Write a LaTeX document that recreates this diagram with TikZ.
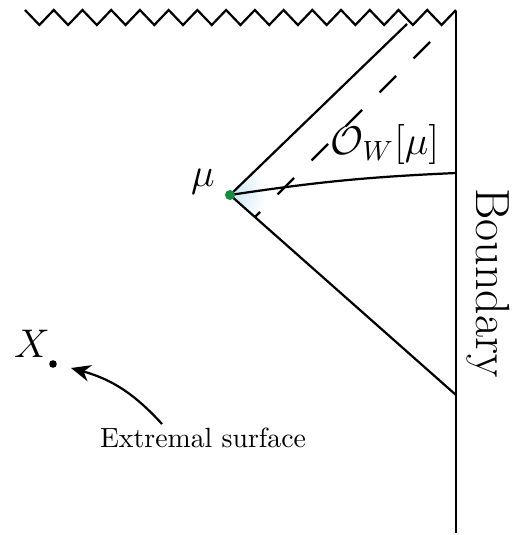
\documentclass[tikz,border=0pt]{standalone}
\usepackage{amsmath,amssymb}
\usepackage{tikz}
\usetikzlibrary{arrows.meta}

\definecolor{mugreen}{RGB}{20,140,60}
\definecolor{haze}{RGB}{200,228,246}

\begin{document}
\begin{tikzpicture}[x=0.36pt, y=-0.36pt,
  wall/.style={thick},
  cone/.style={thick},
  nullray/.style={thick,dash pattern=on 8.4pt off 8.9pt},
  pointer/.style={thick,-{Stealth[length=7pt,width=6pt]}},
  bigmath/.style={font=\Large}]

  \useasboundingbox (0,0) rectangle (513,535);

  \def\P{28.73}

  % Singularity
  \draw[wall] (25,10)
    \foreach \k in {0,...,14}{
      -- ({25+\k*\P+\P/2},25) -- ({25+(\k+1)*\P},10)
    };

  % Boundary
  \coordinate (btop) at (456,11);
  \coordinate (bbot) at (456,533);
  \draw[wall] (btop) -- (bbot);
  \node[font=\LARGE, rotate=-90] (bdry) at (488,283) {Boundary};

  % Light cone of mu
  \coordinate (mu) at (230,195);
  \coordinate (cup) at (407,24);
  \coordinate (clow) at (456,395);
  \coordinate (bc) at (456,173);
  \begin{scope}
    \clip (mu) -- (cup) -- (clow) -- cycle;
    \shade[inner color=haze, outer color=white] (mu) circle (36);
  \end{scope}
  \draw[cone] (mu) -- (cup);
  \draw[cone] (mu) -- (clow);
  \draw[thick] (mu) to[bend left=3] (bc);

  % Shifted null ray
  \coordinate (dtop) at (430,42);
  \coordinate (dbot) at (255,217);
  \draw[nullray] (dtop) -- (dbot);

  \fill[mugreen] (mu) circle (5);
  \node[bigmath] (mulab) at (203,182) {$\mu$};
  \node[bigmath] (olab) at (385,145) {$\mathcal{O}_W[\mu]$};

  % Extremal surface
  \coordinate (xdot) at (53,364);
  \fill (xdot) circle (3.8);
  \node[bigmath] (xlab) at (32,344) {$X$};
  \node (ext) at (203,438) {Extremal surface};
  \coordinate (arrs) at (162,424);
  \coordinate (arre) at (71,368);
  \draw[pointer] (arrs) to[bend right=16] (arre);
\end{tikzpicture}
\end{document}
